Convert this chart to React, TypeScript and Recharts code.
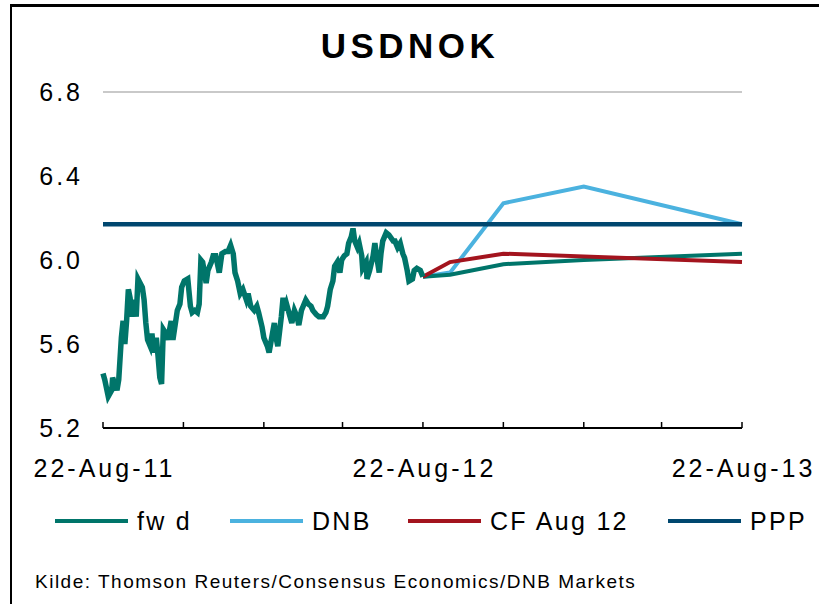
import React from "react";
import { LineChart, Line, XAxis, YAxis, CartesianGrid } from "recharts";

// days counted from 22-Aug-11
const HIST_DAYS = [
  0, 2, 6, 10, 11, 16, 18, 21, 23, 25, 27, 29, 31, 33, 35, 38, 40, 45, 47, 49,
  51, 54, 56, 58, 61, 63, 65, 67, 69, 72, 74, 78, 80, 85, 88, 90, 93, 97, 100, 102,
  105, 108, 110, 112, 114, 118, 120, 124, 126, 129, 133, 136, 140, 143, 146, 149, 151, 154, 157, 160,
  164, 166, 169, 173, 176, 178, 182, 184, 188, 190, 193, 196, 198, 200, 204, 206, 208, 210, 214, 216,
  219, 222, 224, 227, 229, 232, 235, 238, 240, 244, 247, 252, 255, 257, 260, 263, 265, 268, 271, 273,
  276, 279, 281, 284, 286, 288, 291, 293, 296, 297, 301, 302, 305, 309, 311, 313, 316, 318, 320, 324,
  327, 332, 334, 337, 340, 343, 345, 348, 350, 354, 356, 359, 363, 366,
];
const HIST_VALUES = [
  5.46, 5.43, 5.35, 5.38, 5.44, 5.38, 5.43, 5.63, 5.71, 5.6, 5.71, 5.86, 5.82, 5.73, 5.81, 5.73, 5.91, 5.87, 5.81, 5.7,
  5.62, 5.59, 5.65, 5.56, 5.63, 5.54, 5.44, 5.41, 5.67, 5.65, 5.62, 5.71, 5.62, 5.76, 5.79, 5.87, 5.9, 5.91, 5.78, 5.75,
  5.76, 5.75, 5.79, 6.0, 5.99, 5.89, 5.95, 5.99, 6.02, 6.02, 5.94, 6.03, 6.04, 6.04, 6.07, 6.03, 5.94, 5.9, 5.84, 5.86,
  5.81, 5.84, 5.78, 5.76, 5.78, 5.75, 5.68, 5.63, 5.59, 5.56, 5.63, 5.7, 5.63, 5.59, 5.73, 5.82, 5.76, 5.79, 5.73, 5.7,
  5.76, 5.73, 5.69, 5.76, 5.78, 5.81, 5.79, 5.78, 5.76, 5.74, 5.73, 5.73, 5.75, 5.78, 5.86, 5.9, 5.97, 5.99, 5.94, 6.0,
  6.02, 6.03, 6.08, 6.11, 6.15, 6.09, 6.06, 6.08, 6.02, 5.96, 5.99, 5.91, 5.95, 6.02, 6.08, 6.02, 5.94, 6.03, 6.09, 6.13,
  6.12, 6.09, 6.09, 6.06, 6.08, 6.03, 6.01, 5.95, 5.9, 5.91, 5.95, 5.96, 5.95, 5.92,
];

// forecast horizons: spot, 1m, 3m, 6m, 12m
const FC_DAYS = [366, 397, 458, 550, 731];
const FWD = [5.92, 5.93, 5.98, 6.0, 6.03];
const DNB = [5.92, 5.94, 6.27, 6.35, 6.17];
const CF = [5.92, 5.99, 6.03, null, 5.99];
const PPP_DAYS = [0, 731];
const PPP = [6.17, 6.17];

const X_TICKS = [0, 92, 184, 274, 366, 458, 550, 639, 731];
const X_LABELS: Record<number, string> = { 0: "22-Aug-11", 366: "22-Aug-12", 731: "22-Aug-13" };
const Y_TICKS = [5.2, 5.6, 6.0, 6.4, 6.8];

const C_FWD = "#00756A";
const C_DNB = "#4BB2DF";
const C_CF = "#A3141E";
const C_PPP = "#00476F";

const FONT = "'Liberation Sans', Arial, sans-serif";

type Row = { day: number; hist?: number; fwd?: number; dnb?: number; cf?: number; ppp?: number };

function buildRows(): Row[] {
  const map = new Map<number, Row>();
  const get = (d: number) => {
    if (!map.has(d)) map.set(d, { day: d });
    return map.get(d)!;
  };
  HIST_DAYS.forEach((d, i) => (get(d).hist = HIST_VALUES[i]));
  FC_DAYS.forEach((d, i) => {
    const r = get(d);
    r.fwd = FWD[i];
    r.dnb = DNB[i];
    if (CF[i] != null) r.cf = CF[i] as number;
  });
  PPP_DAYS.forEach((d, i) => (get(d).ppp = PPP[i]));
  return Array.from(map.values()).sort((a, b) => a.day - b.day);
}

const rows = buildRows();

const XTick = (props: any) => {
  const { x, y, payload } = props;
  const label = X_LABELS[payload.value];
  return (
    <g>
      <line x1={x} y1={y} x2={x} y2={y - 6} stroke="#000" strokeWidth={1.5} />
      {label && (
        <text x={x + 1.5} y={y + 49} textAnchor="middle" fontSize={25} fill="#000" fontFamily={FONT} letterSpacing={3}>
          {label}
        </text>
      )}
    </g>
  );
};

const LEGEND = [
  { name: "fw d", color: C_FWD, x: 55 },
  { name: "DNB", color: C_DNB, x: 230 },
  { name: "CF Aug 12", color: C_CF, x: 408 },
  { name: "PPP", color: C_PPP, x: 668 },
];

export default function App() {
  const tickStyle = { fontSize: 25, fill: "#000", fontFamily: FONT, letterSpacing: 3 };
  return (
    <div style={{ position: "absolute", left: 0, top: 0, width: 819, height: 604, background: "#fff", overflow: "hidden", fontFamily: FONT }}>
      <div style={{ position: "absolute", left: 10, top: 4, width: 900, height: 700, borderLeft: "2px solid #000", borderTop: "3px solid #000" }} />
      <div style={{ position: "absolute", left: 2, top: 26, width: 816, textAlign: "center", fontSize: 35, fontWeight: 700, letterSpacing: 4.5 }}>
        USDNOK
      </div>
      <div style={{ position: "absolute", left: 0, top: 0 }}>
        <LineChart width={819} height={604} data={rows} margin={{ top: 92, right: 17, bottom: 0, left: 43 }}>
          <CartesianGrid vertical={false} stroke="#C9C9C9" strokeWidth={2} />
          <XAxis
            dataKey="day"
            type="number"
            domain={[0, 731]}
            ticks={X_TICKS}
            interval={0}
            height={176}
            tickSize={0}
            tickMargin={0}
            tickLine={false}
            axisLine={{ stroke: "#000", strokeWidth: 2 }}
            tick={<XTick />}
          />
          <YAxis
            yAxisId="l"
            orientation="left"
            width={60}
            domain={[5.2, 6.8]}
            ticks={Y_TICKS}
            tickFormatter={(v) => v.toFixed(1)}
            axisLine={false}
            tickLine={false}
            tickSize={0}
            tickMargin={20}
            tick={tickStyle}
          />
          <YAxis
            yAxisId="r"
            orientation="right"
            width={60}
            domain={[5.2, 6.8]}
            ticks={Y_TICKS}
            tickFormatter={(v) => v.toFixed(1)}
            axisLine={false}
            tickLine={false}
            tickSize={0}
            tickMargin={22}
            tick={tickStyle}
          />
          <Line yAxisId="l" dataKey="dnb" stroke={C_DNB} strokeWidth={4} dot={false} activeDot={false} connectNulls isAnimationActive={false} />
          <Line yAxisId="l" dataKey="ppp" stroke={C_PPP} strokeWidth={4.5} dot={false} activeDot={false} connectNulls isAnimationActive={false} />
          <Line yAxisId="l" dataKey="fwd" stroke={C_FWD} strokeWidth={4} dot={false} activeDot={false} connectNulls isAnimationActive={false} />
          <Line yAxisId="l" dataKey="cf" stroke={C_CF} strokeWidth={4} dot={false} activeDot={false} connectNulls isAnimationActive={false} />
          <Line yAxisId="l" dataKey="hist" stroke={C_FWD} strokeWidth={5.5} dot={false} activeDot={false} connectNulls isAnimationActive={false} />
        </LineChart>
      </div>
      {LEGEND.map((l) => (
        <div key={l.name} style={{ position: "absolute", left: l.x, top: 505, height: 32, display: "flex", alignItems: "center" }}>
          <div style={{ width: 73, height: 4, background: l.color }} />
          <span style={{ marginLeft: 9, fontSize: 25, letterSpacing: 2.3 }}>{l.name}</span>
        </div>
      ))}
      <div style={{ position: "absolute", left: 35, top: 571, fontSize: 19, letterSpacing: 1.5 }}>
        Kilde: Thomson Reuters/Consensus Economics/DNB Markets
      </div>
    </div>
  );
}
